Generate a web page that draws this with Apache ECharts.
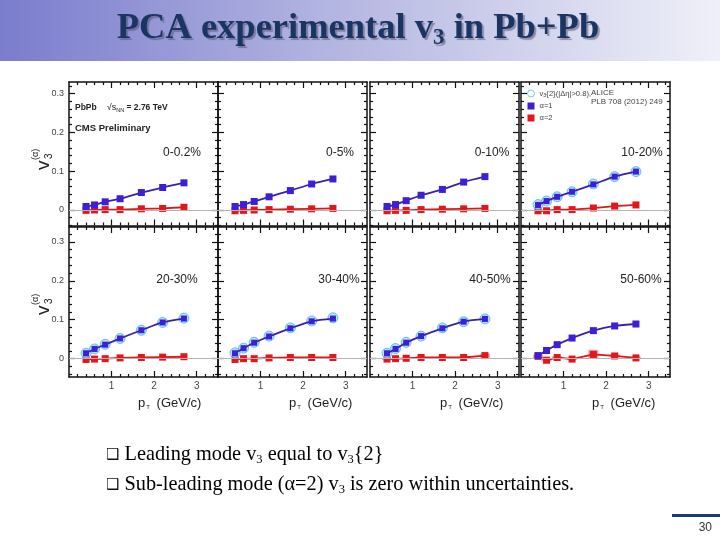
<!DOCTYPE html>
<html><head><meta charset="utf-8">
<script src="https://cdn.jsdelivr.net/npm/echarts@6/dist/echarts.min.js"></script>
<style>html,body{margin:0;padding:0;background:#fff}#c{width:720px;height:540px}</style>
</head><body><div id="c"></div>
<script>
// ---- data ----
const pt = [0.4, 0.6, 0.85, 1.2, 1.7, 2.2, 2.7];
const centralities = ['0-0.2%', '0-5%', '0-10%', '10-20%', '20-30%', '30-40%', '40-50%', '50-60%'];
// alpha = 1 (leading mode)
const a1_0_02  = [0.009, 0.013, 0.021, 0.029, 0.045, 0.058, 0.070];
const a1_0_5   = [0.009, 0.014, 0.022, 0.034, 0.050, 0.067, 0.080];
const a1_0_10  = [0.009, 0.014, 0.024, 0.038, 0.053, 0.072, 0.086];
const a1_10_20 = [0.013, 0.023, 0.034, 0.047, 0.066, 0.086, 0.099];
const a1_20_30 = [0.014, 0.025, 0.036, 0.052, 0.073, 0.093, 0.103];
const a1_30_40 = [0.014, 0.027, 0.041, 0.057, 0.078, 0.096, 0.103];
const a1_40_50 = [0.014, 0.025, 0.041, 0.058, 0.078, 0.095, 0.102];
const a1_50_60 = [0.008, 0.021, 0.036, 0.053, 0.072, 0.084, 0.089];
// alpha = 2 (sub-leading mode)
const a2_0_02  = [-0.001, 0.000, 0.001, 0.001, 0.003, 0.004, 0.007];
const a2_0_5   = [-0.002, -0.001, 0.000, 0.001, 0.002, 0.003, 0.004];
const a2_0_10  = [-0.002, -0.001, -0.001, 0.001, 0.002, 0.003, 0.004];
const a2_10_20 = [-0.002, -0.002, 0.001, 0.001, 0.005, 0.010, 0.013];
const a2_20_30 = [-0.002, -0.001, 0.000, 0.002, 0.003, 0.004, 0.005];
const a2_30_40 = [-0.002, 0.000, 0.000, 0.002, 0.003, 0.003, 0.003];
const a2_40_50 = [-0.001, 0.000, 0.001, 0.003, 0.003, 0.003, 0.008];
const a2_50_60 = [0.006, -0.004, 0.003, -0.001, 0.011, 0.007, 0.002];
// systematic uncertainty of alpha = 2
const sys_40_50 = [0.002, 0.002, 0.002, 0.002, 0.002, 0.002, 0.005];
const sys_50_60 = [0.004, 0.003, 0.003, 0.003, 0.012, 0.004, 0.003];
// ALICE v3{2}(|Δη|>0.8)
const alice_10_20 = [0.014, 0.023, 0.034, 0.047, 0.067, 0.086, 0.099];
const alice_20_30 = [0.014, 0.025, 0.037, 0.052, 0.073, 0.093, 0.104];
const alice_30_40 = [0.015, 0.027, 0.042, 0.058, 0.079, 0.097, 0.105];
const alice_40_50 = [0.014, 0.026, 0.042, 0.058, 0.079, 0.095, 0.102];
// ticks
const yTicks = [0, 0.1, 0.2, 0.3];
const yTickLabels = ['0', '0.1', '0.2', '0.3'];
const yMinor = [-0.04, -0.02, 0.02, 0.04, 0.06, 0.08, 0.12, 0.14, 0.16, 0.18, 0.22, 0.24, 0.26, 0.28, 0.32];
const xTicks = [1, 2, 3];
const xTickLabels = ['1', '2', '3'];
const xMinor = [0.2, 0.4, 0.6, 0.8, 1.2, 1.4, 1.6, 1.8, 2.2, 2.4, 2.6, 2.8, 3.2, 3.4];

const alpha1 = [a1_0_02, a1_0_5, a1_0_10, a1_10_20, a1_20_30, a1_30_40, a1_40_50, a1_50_60];
const alpha2 = [a2_0_02, a2_0_5, a2_0_10, a2_10_20, a2_20_30, a2_30_40, a2_40_50, a2_50_60];
const alice = [null, null, null, alice_10_20, alice_20_30, alice_30_40, alice_40_50, null];
const sys = [null, null, null, null, null, null, sys_40_50, sys_50_60];

// ---- layout ----
const lefts = [69, 218, 370, 521], W = 149;
const tops = [82, 227], Hs = [143.5, 150];
const yRanges = [[-0.04, 0.33], [-0.047, 0.338]];
const AX = '#111', LBL = '#444', SANS = 'Liberation Sans, Arial, sans-serif';
const SERIF = 'Liberation Serif, Times New Roman, serif';

const grid = [], xAxis = [], yAxis = [], series = [];
for (let i = 0; i < 8; i++) {
  const r = Math.floor(i / 4), c = i % 4;
  grid.push({left: lefts[c], top: tops[r], width: W, height: Hs[r]});
  const xb = xAxis.length;
  [['bottom', true], ['bottom', false], ['top', true], ['top', false]].forEach(([pos, major]) => {
    xAxis.push({
      type: 'value', gridIndex: i, min: 0, max: 3.5, position: pos,
      axisLine: {show: major, onZero: false, lineStyle: {color: AX, width: 1.5}},
      axisTick: {show: true, inside: true, length: major ? 6 : 3, customValues: major ? xTicks : xMinor, lineStyle: {color: AX, width: 1.2}},
      axisLabel: {show: major && pos === 'bottom' && r === 1, customValues: xTicks, margin: 4, fontSize: 10, color: LBL, fontFamily: SANS,
        formatter: v => xTickLabels[xTicks.indexOf(v)] || ''},
      splitLine: {show: false}
    });
  });
  const yb = yAxis.length;
  [['left', true], ['left', false], ['right', true], ['right', false]].forEach(([pos, major]) => {
    yAxis.push({
      type: 'value', gridIndex: i, min: yRanges[r][0], max: yRanges[r][1], position: pos,
      axisLine: {show: major, onZero: false, lineStyle: {color: AX, width: 1.5}},
      axisTick: {show: true, inside: true, length: major ? 6 : 3, customValues: major ? yTicks : yMinor, lineStyle: {color: AX, width: 1.2}},
      axisLabel: {show: major && pos === 'left' && c === 0, customValues: yTicks, margin: 5, fontSize: 9, color: LBL, fontFamily: SANS,
        formatter: v => yTickLabels[yTicks.indexOf(v)] || ''},
      splitLine: {show: false}
    });
  });
  // zero line
  series.push({type: 'line', name: 'zero', xAxisIndex: xb, yAxisIndex: yb, data: [], z: 1, silent: true,
    markLine: {silent: true, symbol: 'none', label: {show: false}, animation: false,
      lineStyle: {color: '#b4b4b4', width: 1, type: 'solid'}, data: [{yAxis: 0}]}});
  if (sys[i]) {
    series.push({type: 'custom', name: 'sys', xAxisIndex: xb, yAxisIndex: yb, z: 2, silent: true,
      data: pt.map((x, j) => [x, alpha2[i][j], sys[i][j]]),
      renderItem: (params, api) => {
        const x = api.value(0), y = api.value(1), e = api.value(2);
        const p1 = api.coord([x, y + e]), p2 = api.coord([x, y - e]);
        return {type: 'rect', shape: {x: p1[0] - 5, y: p1[1], width: 10, height: p2[1] - p1[1]},
          style: {fill: 'rgba(240,130,140,0.75)'}};
      }});
  }
  series.push({type: 'line', name: 'α=2', xAxisIndex: xb, yAxisIndex: yb, z: 3,
    data: pt.map((x, j) => [x, alpha2[i][j]]), symbol: 'rect', symbolSize: 7,
    itemStyle: {color: '#e3161c'}, lineStyle: {color: '#d81a1a', width: 1.8}});
  if (alice[i]) {
    series.push({type: 'scatter', name: 'ALICE', xAxisIndex: xb, yAxisIndex: yb, z: 4,
      data: pt.map((x, j) => [x, alice[i][j]]), symbol: 'circle', symbolSize: 10,
      itemStyle: {color: '#a6dcf7', borderColor: '#46b2ea', borderWidth: 1}});
  }
  series.push({type: 'line', name: 'α=1', xAxisIndex: xb, yAxisIndex: yb, z: 5,
    data: pt.map((x, j) => [x, alpha1[i][j]]), symbol: 'rect', symbolSize: alice[i] ? 6 : 7, smooth: 0.3,
    itemStyle: {color: '#3b1fd9'}, lineStyle: {color: '#3a22a8', width: 1.8}});
}

// ---- texts ----
const labelPos = [[182, 153], [340, 153], [492, 153], [642, 153], [177, 280], [339, 280], [490, 280], [641, 280]];
const bulletRich = {b: {fontFamily: 'DejaVu Sans', fontSize: 15, fill: '#111'},
  s: {fontFamily: SERIF, fontSize: 12.5, fill: '#000', padding: [10, 0, 0, 0]}};
const graphic = [
  {type: 'rect', left: 0, top: 0, z: -10, shape: {width: 720, height: 61},
    style: {fill: new echarts.graphic.LinearGradient(0, 0, 1, 0, [
      {offset: 0, color: '#7a7ccd'}, {offset: 0.45, color: '#b2b4e1'}, {offset: 1, color: '#eff0f8'}])}},
  {type: 'text', x: 358, y: 29, z: 10, style: {
    text: 'PCA experimental v{s|3} in Pb+Pb', align: 'center', verticalAlign: 'middle',
    fontFamily: SERIF, fontWeight: 'bold', fontSize: 36.5, fill: '#1b3563',
    textShadowColor: 'rgba(80,80,110,0.55)', textShadowOffsetX: 2, textShadowOffsetY: 2, textShadowBlur: 1,
    rich: {s: {fontFamily: SERIF, fontWeight: 'bold', fontSize: 23, fill: '#1b3563', padding: [19, 0, 0, 0]}}}},
  {type: 'text', x: 106, y: 455, style: {
    text: '{b|❑} Leading mode v{s|3} equal to v{s|3}{2}', verticalAlign: 'middle',
    fontFamily: SERIF, fontSize: 20.3, fill: '#000', rich: bulletRich}},
  {type: 'text', x: 106, y: 485, style: {
    text: '{b|❑} Sub-leading mode (α=2) v{s|3} is zero within uncertainties.', verticalAlign: 'middle',
    fontFamily: SERIF, fontSize: 20.3, fill: '#000', rich: bulletRich}},
  {type: 'rect', shape: {x: 672, y: 514, width: 48, height: 3}, style: {fill: '#1c3a7a'}},
  {type: 'text', x: 712, y: 528, style: {text: '30', align: 'right', verticalAlign: 'middle', fontFamily: SANS, fontSize: 12, fill: '#333'}},
  {type: 'text', x: 75, y: 108, style: {
    text: '{b|PbPb}   {r|√s}{n|NN}{b| = 2.76 TeV}', verticalAlign: 'middle',
    rich: {b: {fontFamily: SANS, fontWeight: 'bold', fontSize: 8.5, fill: '#222'},
           r: {fontFamily: SANS, fontSize: 9, fill: '#222'},
           n: {fontFamily: SANS, fontSize: 5.5, fill: '#222', padding: [5, 0, 0, 0]}}}},
  {type: 'text', x: 75, y: 128, style: {text: 'CMS Preliminary', verticalAlign: 'middle', fontFamily: SANS, fontWeight: 'bold', fontSize: 9.5, fill: '#222'}},
  {type: 'text', x: 591, y: 97, style: {text: 'ALICE\nPLB 708 (2012) 249', verticalAlign: 'middle', fontFamily: SANS, fontSize: 8, lineHeight: 9, fill: '#444'}}
];
labelPos.forEach((p, i) => graphic.push({type: 'text', x: p[0], y: p[1], style: {
  text: centralities[i], align: 'center', verticalAlign: 'middle', fontFamily: SANS, fontSize: 12, fill: '#222'}}));
[170, 315].forEach(yc => graphic.push({type: 'group', x: 44, y: yc, rotation: Math.PI / 2, children: [
  {type: 'text', x: 0, y: 0, style: {text: 'v', fontFamily: SANS, fontSize: 19, fill: '#222', verticalAlign: 'middle'}},
  {type: 'text', x: 11, y: 5, style: {text: '3', fontFamily: SANS, fontSize: 10, fill: '#222', verticalAlign: 'middle'}},
  {type: 'text', x: 10, y: -8, style: {text: '(α)', fontFamily: SANS, fontSize: 9, fill: '#222', verticalAlign: 'middle'}}
]}));
[138, 289, 440, 592].forEach(x => graphic.push({type: 'text', x: x, y: 403, style: {
  text: '{p|p}{t|T}  {p|(GeV/c)}', verticalAlign: 'middle',
  rich: {p: {fontFamily: SANS, fontSize: 13, fill: '#222'}, t: {fontFamily: SANS, fontSize: 6, fill: '#222', padding: [8, 0, 0, 1]}}}}));

const chart = echarts.init(document.getElementById('c'), null, {renderer: 'canvas'});
chart.setOption({
  animation: false,
  backgroundColor: '#fff',
  grid, xAxis, yAxis, series, graphic,
  legend: {
    left: 527, top: 89, orient: 'vertical', padding: 0, itemGap: 3, itemWidth: 7, itemHeight: 7,
    selectedMode: false,
    data: [
      {name: 'ALICE', icon: 'circle', itemStyle: {color: '#ffffff', borderColor: '#52bdee', borderWidth: 1}},
      {name: 'α=1', icon: 'rect'},
      {name: 'α=2', icon: 'rect'}
    ],
    formatter: n => n === 'ALICE' ? 'v{s|3}{2}(|Δη|>0.8),' : n,
    textStyle: {fontFamily: SANS, fontSize: 7.6, color: '#444', lineHeight: 9,
      rich: {s: {fontFamily: SANS, fontSize: 5.5, color: '#444', padding: [4, 0, 0, 0]}}}
  }
});
</script></body></html>
